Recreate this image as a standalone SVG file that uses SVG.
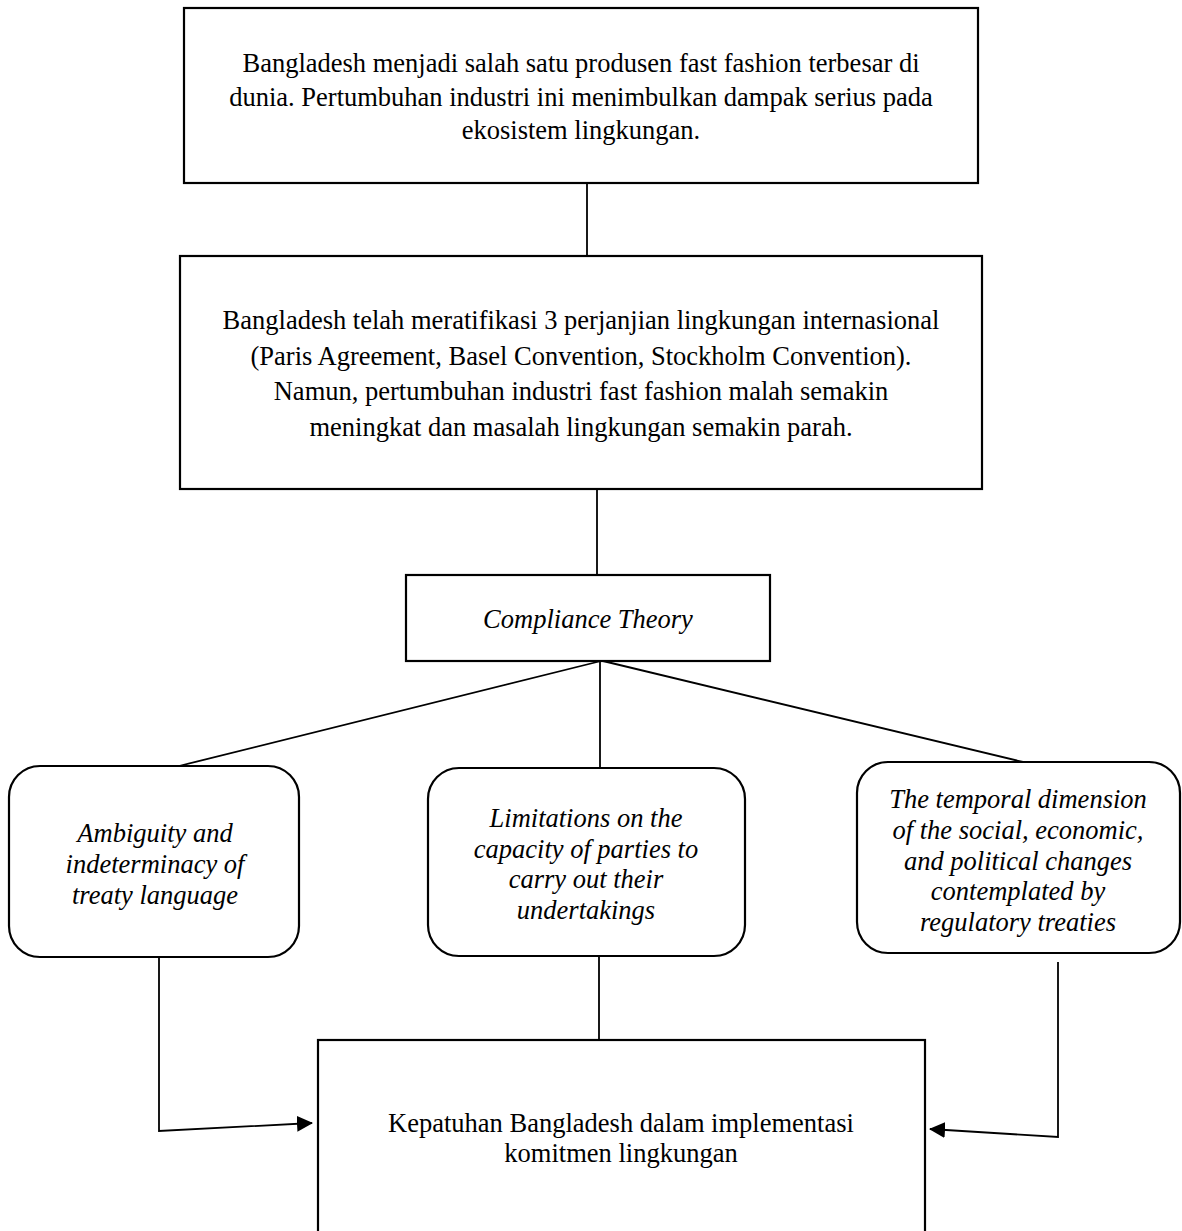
<svg xmlns="http://www.w3.org/2000/svg" width="1182" height="1231" viewBox="0 0 1182 1231">
<defs>
<marker id="arrow" viewBox="0 0 16 16" refX="15" refY="8" markerWidth="16" markerHeight="16" markerUnits="userSpaceOnUse" orient="auto">
<path d="M0,0 L16,8 L0,16 Z" fill="#000"/>
</marker>
<style>
.box{fill:#fff;stroke:#000;stroke-width:2.2}
.conn{stroke:#000;stroke-width:1.8;fill:none}
.t{font-family:"Liberation Serif","Times New Roman",serif;font-size:26.5px;fill:#000;text-anchor:middle}
.i{font-style:italic}
</style>
</defs>
<rect width="1182" height="1231" fill="#fff"/>
<g id="connectors">
<line class="conn" x1="587" y1="183" x2="587" y2="256"/>
<line class="conn" x1="597" y1="488" x2="597" y2="575"/>
<line class="conn" x1="601" y1="661" x2="179" y2="766"/>
<line class="conn" x1="600" y1="661" x2="600" y2="768"/>
<line class="conn" x1="603" y1="661" x2="1023" y2="762"/>
<line class="conn" x1="599" y1="956" x2="599" y2="1040"/>
<polyline class="conn" points="159,957 159,1131 312,1123" marker-end="url(#arrow)"/>
<polyline class="conn" points="1058,962 1058,1137 930,1129" marker-end="url(#arrow)"/>
</g>
<g id="node-fast-fashion">
<rect class="box" x="184" y="8" width="794" height="175"/>
<text class="t" x="581" y="72">Bangladesh menjadi salah satu produsen fast fashion terbesar di</text>
<text class="t" x="581" y="106">dunia. Pertumbuhan industri ini menimbulkan dampak serius pada</text>
<text class="t" x="581" y="139">ekosistem lingkungan.</text>
</g>
<g id="node-ratifikasi">
<rect class="box" x="180" y="256" width="802" height="233"/>
<text class="t" x="581" y="329">Bangladesh telah meratifikasi 3 perjanjian lingkungan internasional</text>
<text class="t" x="581" y="365">(Paris Agreement, Basel Convention, Stockholm Convention).</text>
<text class="t" x="581" y="400">Namun, pertumbuhan industri fast fashion malah semakin</text>
<text class="t" x="581" y="436">meningkat dan masalah lingkungan semakin parah.</text>
</g>
<g id="node-compliance">
<rect class="box" x="406" y="575" width="364" height="86"/>
<text class="t i" x="588" y="628">Compliance Theory</text>
</g>
<g id="node-ambiguity">
<rect class="box" x="9" y="766" width="290" height="191" rx="31"/>
<text class="t i" x="155" y="842">Ambiguity and</text>
<text class="t i" x="155" y="873">indeterminacy of</text>
<text class="t i" x="155" y="904">treaty language</text>
</g>
<g id="node-limitations">
<rect class="box" x="428" y="768" width="317" height="188" rx="31"/>
<text class="t i" x="586" y="827">Limitations on the</text>
<text class="t i" x="586" y="858">capacity of parties to</text>
<text class="t i" x="586" y="888">carry out their</text>
<text class="t i" x="586" y="919">undertakings</text>
</g>
<g id="node-temporal">
<rect class="box" x="857" y="762" width="323" height="191" rx="31"/>
<text class="t i" x="1018" y="808">The temporal dimension</text>
<text class="t i" x="1018" y="839">of the social, economic,</text>
<text class="t i" x="1018" y="870">and political changes</text>
<text class="t i" x="1018" y="900">contemplated by</text>
<text class="t i" x="1018" y="931">regulatory treaties</text>
</g>
<g id="node-kepatuhan">
<rect class="box" x="318" y="1040" width="607" height="210"/>
<text class="t" x="621" y="1132">Kepatuhan Bangladesh dalam implementasi</text>
<text class="t" x="621" y="1162">komitmen lingkungan</text>
</g>
</svg>
